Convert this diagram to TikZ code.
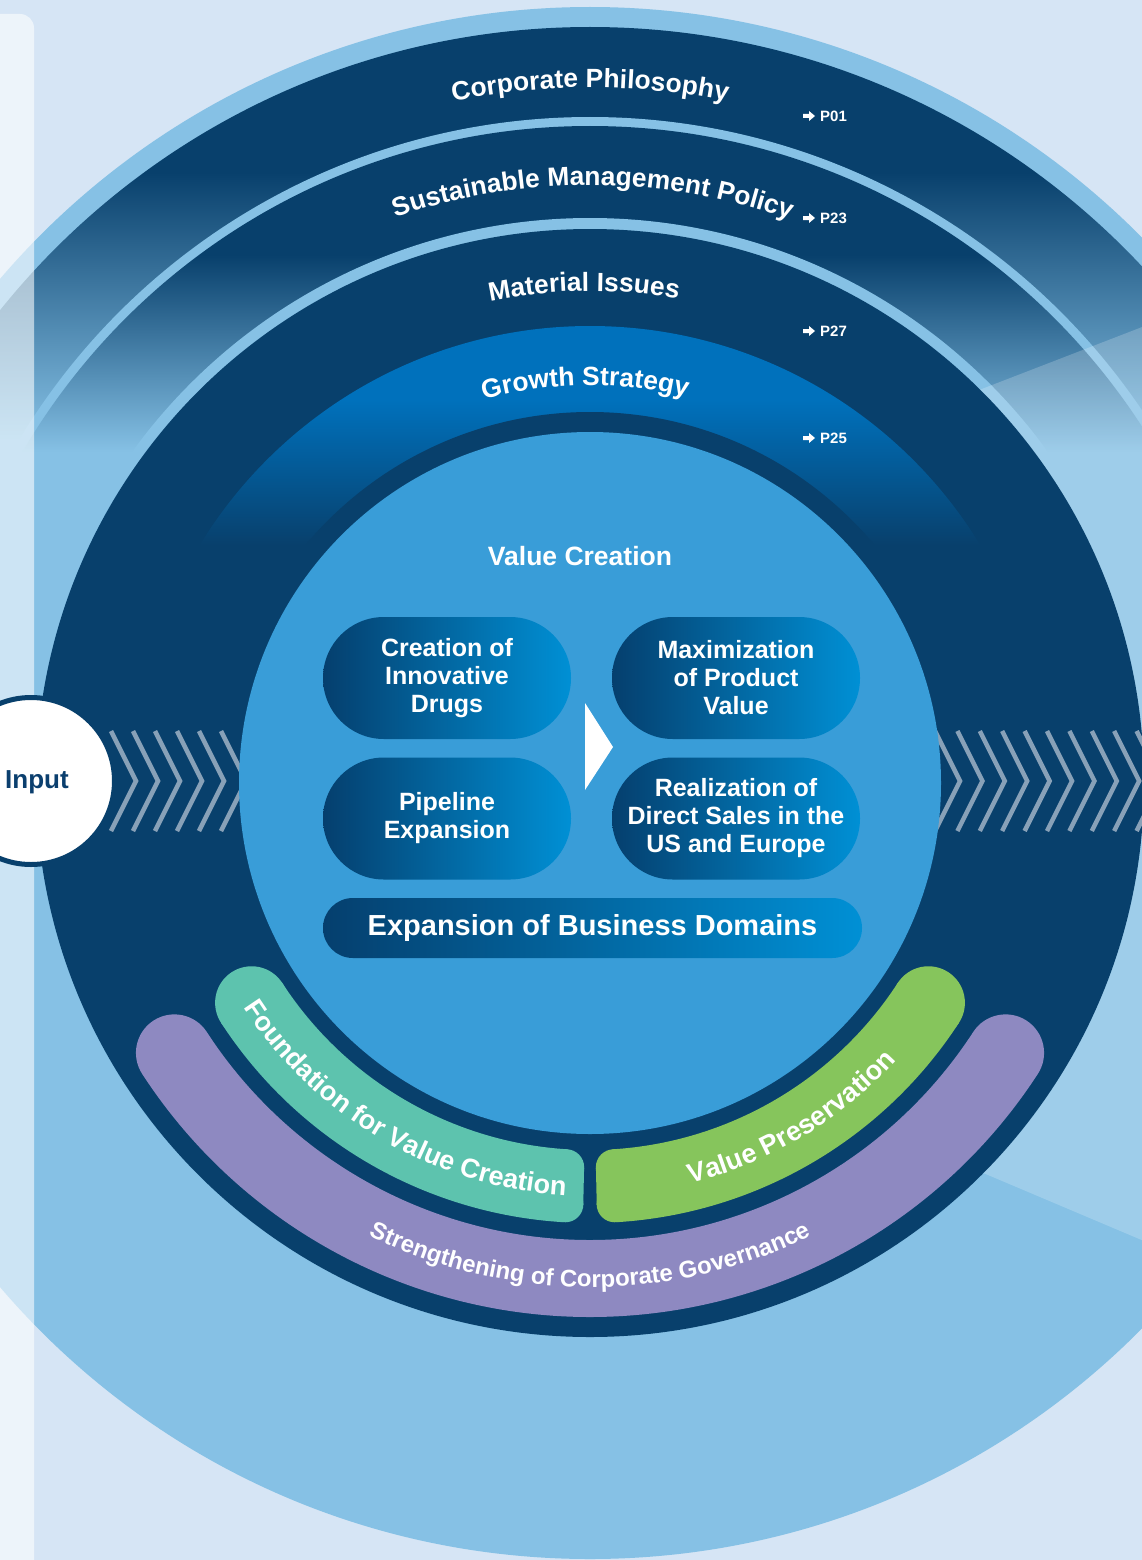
\documentclass[tikz,border=0pt]{standalone}
\usepackage{fontspec}
\setmainfont{Liberation Sans}
\usetikzlibrary{calc,decorations.text}
\definecolor{bgc}{HTML}{D6E5F5}
\definecolor{lightc}{HTML}{86C1E5}
\definecolor{navyc}{HTML}{08406C}
\definecolor{growc}{HTML}{0071BC}
\definecolor{valc}{HTML}{399DD8}
\definecolor{pillL}{HTML}{053F6E}
\definecolor{pillR}{HTML}{0090D5}
\definecolor{purc}{HTML}{8E89C1}
\definecolor{tealc}{HTML}{5DC3AE}
\definecolor{greenc}{HTML}{86C55C}
\definecolor{chevc}{HTML}{88A1B8}
\definecolor{inputc}{HTML}{0B3F6E}
\newcommand\arcfont{\bfseries\fontsize{26.4}{26.4}\selectfont}
\newcommand\lowarcfont{\bfseries\fontsize{27}{27}\selectfont}
\newcommand\govfont{\bfseries\fontsize{24}{24}\selectfont}
\newcommand\pillfont{\bfseries\fontsize{25}{28}\selectfont}
\newcommand\bigpillfont{\bfseries\fontsize{29}{29}\selectfont}
\newcommand\reffont{\bfseries\fontsize{15}{15}\selectfont}
\tikzset{
  pill/.style={rectangle, left color=pillL, right color=pillR, text=white,
    font=\pillfont, align=center, inner sep=0pt, minimum width=248pt,
    minimum height=122pt, rounded corners=60.9pt},
  chev/.style={draw=chevc, line width=4.5pt, miter limit=10},
  arctext/.style={decorate, decoration={text along path, text align=center,
    text color=white, text={#1}}},
  reflabel/.style={anchor=west, text=white, font=\reffont, inner sep=0pt},
}
\begin{document}
\begin{tikzpicture}[x=1pt,y=-1pt]
\useasboundingbox (0,0) rectangle (1142,1560);
\coordinate (C) at (590,783);
% background
\fill[bgc] (-10,-10) rectangle (1152,1570);
\fill[lightc] (C) circle (776);
% Corporate Philosophy band
\begin{scope}
  \clip (C) circle (756);
  \fill[navyc] (-10,-10) rectangle (1152,172);
  \shade[top color=navyc, bottom color=lightc] (-10,172) rectangle (1152,440);
\end{scope}
\fill[lightc] (C) circle (666);
% Sustainable Management Policy band
\begin{scope}
  \clip (C) circle (657);
  \fill[navyc] (-10,-10) rectangle (1152,255);
  \shade[top color=navyc, bottom color=lightc] (-10,255) rectangle (1152,452);
\end{scope}
\fill[lightc] (C) circle (565);
% light wedge overlay
\begin{scope}
  \clip (C) circle (776);
  \fill[white, opacity=0.2] (14,763) -- (1300,266) -- (1300,1307) -- cycle;
\end{scope}
% main navy disc (Material Issues)
\fill[navyc] (C) circle (554);
% Growth Strategy band
\begin{scope}
  \clip (C) circle (457);
  \fill[growc] (-10,-10) rectangle (1152,400);
  \shade[top color=growc, bottom color=navyc] (-10,400) rectangle (1152,545);
\end{scope}
\fill[navyc] (C) circle (371);
% chevrons
\foreach \k in {0,...,5}
  \draw[chev] ({111+22*\k},731) -- ({136+22*\k},781) -- ({111+22*\k},831);
\foreach \k in {0,...,9}
  \draw[chev] ({935+22.4*\k},731) -- ({960+22.4*\k},781) -- ({935+22.4*\k},831);
% Value Creation disc
\fill[valc] (C) circle (351);
% Strengthening of Corporate Governance band
\draw[purc, line width=77pt, line cap=round] ($(C)+(147:495.5)$) arc[start angle=147, end angle=33, radius=495.5];
% Foundation for Value Creation band
\draw[tealc, line width=73pt] ($(C)+(147:403.5)$) arc[start angle=147, end angle=93.45, radius=403.5];
\fill[tealc] ($(C)+(147:403.5)$) circle (36.5);
\draw[tealc, line width=37pt] ($(C)+(93.6:403.5)$) arc[start angle=93.6, end angle=90.9, radius=403.5];
\fill[tealc] ($(C)+(93.55:385)$) circle (18);
\fill[tealc] ($(C)+(93.35:422)$) circle (18);
% Value Preservation band
\draw[greenc, line width=73pt] ($(C)+(86.55:403.5)$) arc[start angle=86.55, end angle=33, radius=403.5];
\fill[greenc] ($(C)+(33:403.5)$) circle (36.5);
\draw[greenc, line width=37pt] ($(C)+(89.1:403.5)$) arc[start angle=89.1, end angle=86.4, radius=403.5];
\fill[greenc] ($(C)+(86.45:385)$) circle (18);
\fill[greenc] ($(C)+(86.65:422)$) circle (18);
% arc texts
\path[arctext={|\arcfont|Corporate Philosophy}] ($(C)+(240:695.5)$) arc[start angle=240, end angle=300, radius=695.5];
\path[arctext={|\arcfont|Sustainable Management Policy}] ($(C)+(230.3:598)$) arc[start angle=230.3, end angle=310.3, radius=598];
\path[arctext={|\arcfont|Material Issues}] ($(C)+(239.3:492)$) arc[start angle=239.3, end angle=299.3, radius=492];
\path[arctext={|\arcfont|Growth Strategy}] ($(C)+(234.3:398)$) arc[start angle=234.3, end angle=304.3, radius=398];
\path[arctext={|\lowarcfont|Foundation for Value Creation}] ($(C)+(152:413)$) arc[start angle=152, end angle=88.5, radius=413];
\path[arctext={|\lowarcfont|Value Preservation}] ($(C)+(89:413)$) arc[start angle=89, end angle=29, radius=413];
\path[arctext={|\govfont|Strengthening of Corporate Governance}] ($(C)+(150:504)$) arc[start angle=150, end angle=30, radius=504];
% page references
\foreach \yc/\lab in {116/P01, 218/P23, 331/P27, 438/P25}{
  \fill[white] (803,\yc-2) -- ++(6,0) -- ++(0,-3) -- ++(6,5) -- ++(-6,5) -- ++(0,-3) -- ++(-6,0) -- cycle;
  \node[reflabel] (ref\lab) at (820,\yc) {\lab};
}
% Value Creation content
\node[text=white, font=\bfseries\fontsize{26.5}{26.5}\selectfont] (vc) at (580,556) {Value Creation};
\node[pill] (p1) at (447,678) {Creation of\\Innovative\\Drugs};
\node[pill] (p2) at (736,678) {Maximization\\of Product\\Value};
\node[pill] (p3) at (447,818.5) {Pipeline\\Expansion};
\node[pill] (p4) at (736,818.5) {Realization of\\Direct Sales in the\\US and Europe};
\node[pill, minimum width=539pt, minimum height=60pt, rounded corners=29.9pt, font=\bigpillfont] (p5) at (592.5,928) {Expansion of Business Domains};
\fill[white] (585,703) -- (613,747) -- (585,790) -- cycle;
% left translucent panel
\fill[white, opacity=0.58, rounded corners=14pt] (-40,14) rectangle (34,1620);
% Input
\node[circle, draw=navyc, line width=5pt, fill=white, minimum size=167pt, inner sep=0pt] (input) at (31,781) {};
\node[text=inputc, font=\bfseries\fontsize{26}{26}\selectfont] (inputlbl) at (37,782) {Input};
\end{tikzpicture}
\end{document}
